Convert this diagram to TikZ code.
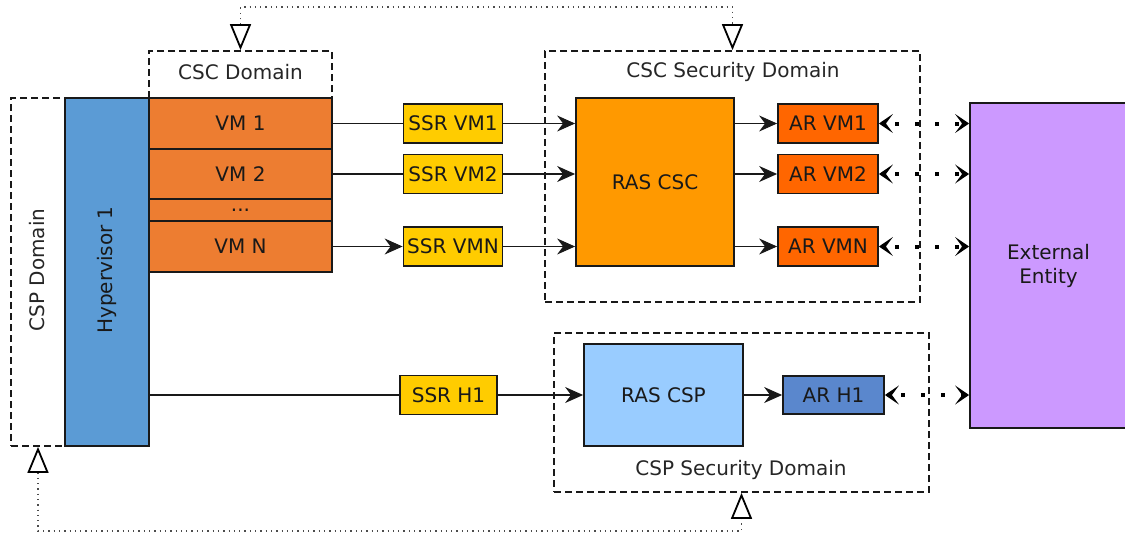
\documentclass[tikz,border=0pt]{standalone}
\usepackage{fontspec}
\setmainfont{DejaVu Sans}
\usetikzlibrary{arrows.meta}

\definecolor{hypblue}{HTML}{5B9BD5}
\definecolor{vmorange}{HTML}{ED7D31}
\definecolor{ssryellow}{HTML}{FFCC00}
\definecolor{rasorange}{HTML}{FF9900}
\definecolor{arorange}{HTML}{FF6600}
\definecolor{extviolet}{HTML}{CC99FF}
\definecolor{rasblue}{HTML}{99CCFF}
\definecolor{arblue}{HTML}{5A87CD}

\begin{document}
\begin{tikzpicture}[x=1pt,y=-1pt,
  font=\fontsize{20}{24}\selectfont,
  boxst/.style={rectangle, draw=black!90, line width=1.8pt, inner sep=0pt, text=black!90},
  zonebox/.style={rectangle, draw=black!90, line width=1.8pt, dash pattern=on 7pt off 4pt, inner sep=0pt},
  lbl/.style={text=black!85, inner sep=0pt},
  linkline/.style={draw=black!90, line width=1.8pt},
  flowline/.style={linkline, -{Stealth[length=18pt,width=16pt,inset=6pt,line width=1pt]}},
  exchline/.style={draw=black, line width=4pt, dash pattern=on 4pt off 16pt, dash phase=10pt,
    {Stealth[length=14pt,width=19pt,inset=7pt,line width=2pt]}-{Stealth[length=14pt,width=19pt,inset=7pt,line width=2pt]}},
  traceline/.style={draw=black!70, line width=1.3pt, dash pattern=on 1.3pt off 4pt,
    {Triangle[open,length=26pt,width=21pt,line width=1.8pt,color=black]}-{Triangle[open,length=26pt,width=21pt,line width=1.8pt,color=black]}}
]
\useasboundingbox (0,0) rectangle (1125,533);

% domains
\node[zonebox, minimum width=54pt, minimum height=348pt] (cspdom) at (38,272) {};
\node[zonebox, minimum width=183pt, minimum height=221pt] (cscdom) at (240.5,161.5) {};
\node[lbl] (cscdomlbl) at (240.5,72) {CSC Domain};
\node[zonebox, minimum width=375pt, minimum height=251pt] (cscsec) at (732.5,176.5) {};
\node[lbl] (cscseclbl) at (733,72) {CSC Security Domain};
\node[zonebox, minimum width=375pt, minimum height=159pt] (cspsec) at (741.5,412.5) {};
\node[lbl] (cspseclbl) at (741,470) {CSP Security Domain};

% hypervisor and virtual machines
\node[boxst, fill=hypblue, minimum width=84pt, minimum height=348pt] (hyp) at (107,272) {};
\node[lbl, rotate=90] (cspdomlbl) at (37,270) {CSP Domain};
\node[boxst, draw=none, rotate=90] (hyplbl) at (107,270) {Hypervisor 1};
\node[boxst, fill=vmorange, minimum width=183pt, minimum height=51pt] (vm1) at (240.5,123.5) {VM 1};
\node[boxst, fill=vmorange, minimum width=183pt, minimum height=50pt] (vm2) at (240.5,174) {VM 2};
\node[boxst, fill=vmorange, minimum width=183pt, minimum height=22pt] (vmd) at (240.5,210) {...};
\node[boxst, fill=vmorange, minimum width=183pt, minimum height=51pt] (vmn) at (240.5,246.5) {VM N};

% SSR boxes
\node[boxst, fill=ssryellow, minimum width=99pt, minimum height=39pt] (ssr1) at (453,123.5) {SSR VM1};
\node[boxst, fill=ssryellow, minimum width=99pt, minimum height=39pt] (ssr2) at (453,174) {SSR VM2};
\node[boxst, fill=ssryellow, minimum width=99pt, minimum height=39pt] (ssrn) at (453,246.5) {SSR VMN};
\node[boxst, fill=ssryellow, minimum width=97pt, minimum height=39pt] (ssrh) at (448.5,395) {SSR H1};

% RAS and AR boxes
\node[boxst, fill=rasorange, minimum width=158pt, minimum height=168pt] (rascsc) at (655,182) {RAS CSC};
\node[boxst, fill=arorange, minimum width=100pt, minimum height=39pt] (ar1) at (828,123.5) {AR VM1};
\node[boxst, fill=arorange, minimum width=100pt, minimum height=39pt] (ar2) at (828,174) {AR VM2};
\node[boxst, fill=arorange, minimum width=100pt, minimum height=39pt] (arn) at (828,246.5) {AR VMN};
\node[boxst, fill=rasblue, minimum width=159pt, minimum height=102pt] (rascsp) at (663.5,395) {RAS CSP};
\node[boxst, fill=arblue, minimum width=101pt, minimum height=38pt] (arh) at (833.5,395) {AR H1};

% external entity
\node[boxst, fill=extviolet, minimum width=157pt, minimum height=325pt, align=center] (ext) at (1048.5,265.5) {External\\Entity};

% connectors
\draw[linkline] (vm1.east) -- (ssr1.west);
\draw[linkline] (vm2.east) -- (ssr2.west);
\draw[flowline] (vmn.east) -- (ssrn.west);
\draw[flowline] (ssr1.east) -- (ssr1.east -| rascsc.west);
\draw[flowline] (ssr2.east) -- (ssr2.east -| rascsc.west);
\draw[flowline] (ssrn.east) -- (ssrn.east -| rascsc.west);
\draw[flowline] (ar1.west -| rascsc.east) -- (ar1.west);
\draw[flowline] (ar2.west -| rascsc.east) -- (ar2.west);
\draw[flowline] (arn.west -| rascsc.east) -- (arn.west);
\draw[linkline] (ssrh.west -| hyp.east) -- (ssrh.west);
\draw[flowline] (ssrh.east) -- (rascsp.west);
\draw[flowline] (rascsp.east) -- (arh.west);

\draw[exchline] (ar1.east) -- (ar1.east -| ext.west);
\draw[exchline] (ar2.east) -- (ar2.east -| ext.west);
\draw[exchline] (arn.east) -- (arn.east -| ext.west);
\draw[exchline] (arh.east) -- (arh.east -| ext.west);

% domain traces
\draw[traceline] (cscdom.north) -- ++(0,-43) -| (cscsec.north);
\draw[traceline] (cspdom.south) -- (cspdom.south |- 0,531) -| (cspsec.south);
\end{tikzpicture}
\end{document}
